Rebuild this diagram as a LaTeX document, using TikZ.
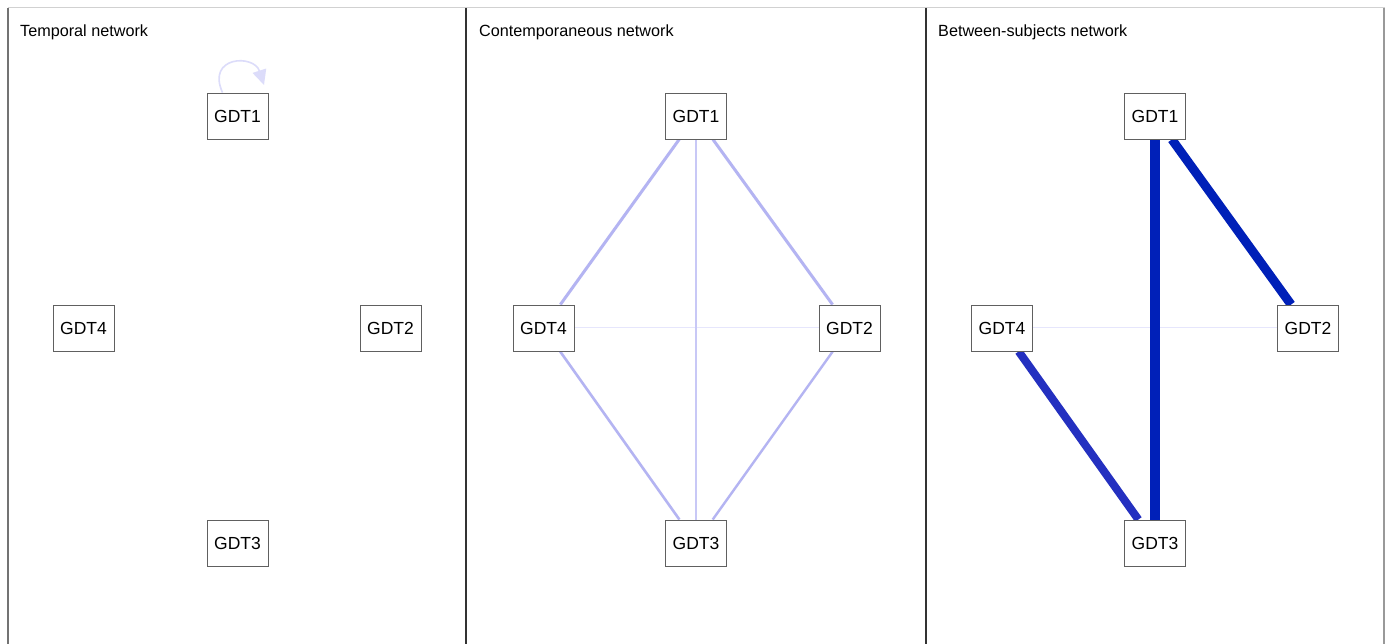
\documentclass[tikz,border=0pt]{standalone}
\usepackage{fontspec}
\setmainfont{Liberation Sans}
\usetikzlibrary{arrows.meta,backgrounds}
\pgfdeclarelayer{bg}
\pgfsetlayers{bg,background,main}
\definecolor{boxline}{RGB}{96,96,96}
\definecolor{lav}{RGB}{180,180,242}
\definecolor{lavmid}{RGB}{200,200,246}
\definecolor{lavfaint}{RGB}{230,230,252}
\definecolor{loopc}{RGB}{220,220,250}
\definecolor{darkblue}{RGB}{0,32,184}
\definecolor{midblue}{RGB}{36,48,192}
\tikzset{
  gnode/.style={draw=boxline, line width=0.9pt, fill=white, minimum width=61pt, minimum height=46pt, inner sep=0pt, font=\fontsize{17.5}{20}\selectfont},
  ptitle/.style={anchor=base west, inner sep=0pt, font=\fontsize{16.2}{19}\selectfont},
  divider/.style={draw=black!80, line width=2pt},
}
\begin{document}
\begin{tikzpicture}[x=1pt,y=-1pt]
\begin{pgfonlayer}{bg}
\fill[white] (0,0) rectangle (1387,644);
\end{pgfonlayer}
\useasboundingbox (0,0) rectangle (1387,644);
% frame
\draw[draw=black!18, line width=1pt] (8,8) -- (1385,8);
\draw[draw=black!55, line width=1.5pt] (8,8) -- (8,644);
\draw[draw=black!40, line width=1.5pt] (1384,8) -- (1384,644);
\draw[divider] (466,8) -- (466,644);
\draw[divider] (926,8) -- (926,644);
% titles
\node[ptitle] (t1) at (20,37) {Temporal network};
\node[ptitle] (t2) at (479,37) {Contemporaneous network};
\node[ptitle] (t3) at (938,37) {Between-subjects network};
% panel 1
\node[gnode] (a1) at (237.5,116) {GDT1};
\node[gnode] (a2) at (390.5,328) {GDT2};
\node[gnode] (a3) at (237.5,543) {GDT3};
\node[gnode] (a4) at (83.5,328) {GDT4};
\begin{pgfonlayer}{background}
\draw[loopc, line width=1.6pt, -{Triangle[length=15pt,width=14pt]}] ([xshift=-15pt]a1.north) .. controls (206,56) and (254,54) .. (264,85);
\end{pgfonlayer}
% panel 2
\node[gnode] (b1) at (696,116) {GDT1};
\node[gnode] (b2) at (849.5,328) {GDT2};
\node[gnode] (b3) at (696,543) {GDT3};
\node[gnode] (b4) at (543.5,328) {GDT4};
\begin{pgfonlayer}{background}
\draw[lavfaint, line width=1pt] (b4) -- (b2);
\draw[lavmid, line width=2pt] (b1) -- (b3);
\draw[lav, line width=3pt] (b1) -- (b4);
\draw[lav, line width=3pt] (b1) -- (b2);
\draw[lav, line width=2.6pt] (b4) -- (b3);
\draw[lav, line width=2.4pt] (b2) -- (b3);
\end{pgfonlayer}
% panel 3
\node[gnode] (c1) at (1155,116) {GDT1};
\node[gnode] (c2) at (1308,328) {GDT2};
\node[gnode] (c3) at (1155,543) {GDT3};
\node[gnode] (c4) at (1002,328) {GDT4};
\begin{pgfonlayer}{background}
\draw[lavfaint, line width=1pt] (c4) -- (c2);
\draw[darkblue, line width=10pt] (c1) -- (c3);
\draw[darkblue, line width=9pt] (c1) -- (c2);
\draw[midblue, line width=8pt] (c4) -- (c3);
\end{pgfonlayer}
\end{tikzpicture}
\end{document}
